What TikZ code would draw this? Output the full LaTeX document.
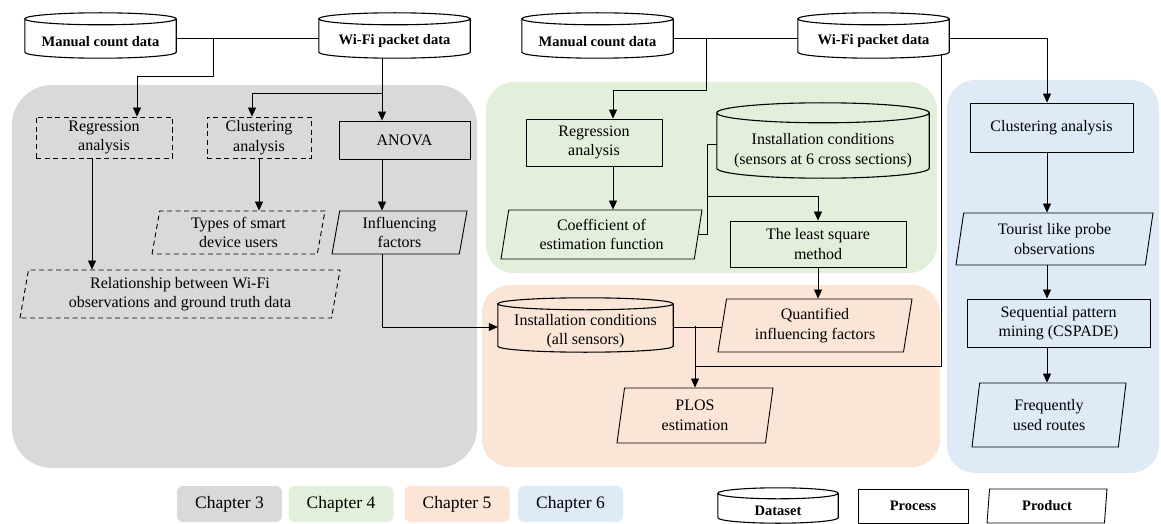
\documentclass[tikz,border=0pt]{standalone}
\usepackage{fontspec}
\setmainfont{Liberation Serif}
\usepackage{tikz}
\usetikzlibrary{arrows.meta}
\usetikzlibrary{calc}
\usetikzlibrary{shapes.geometric}
\definecolor{chgray}{HTML}{D9D9D9}
\definecolor{chgreen}{HTML}{E2EFDA}
\definecolor{chpeach}{HTML}{FBE5D6}
\definecolor{chblue}{HTML}{DEEBF7}
\tikzstyle{every node}+=[inner sep=0pt]
\tikzstyle{txt}=[align=center, font=\fontsize{16}{19.5}\selectfont]
\tikzstyle{hd}=[align=center, font=\bfseries\fontsize{14.5}{17}\selectfont]
\tikzstyle{box}=[txt, draw, line width=0.9pt]
\tikzstyle{dbox}=[box, dash pattern=on 5pt off 3.5pt]
\tikzstyle{prod}=[box, trapezium, trapezium left angle=76, trapezium right angle=104, trapezium stretches body]
\tikzstyle{dprod}=[prod, dash pattern=on 5pt off 3.5pt]
\tikzstyle{db}=[txt]
\tikzstyle{region}=[rounded corners=28pt]
\tikzstyle{chap}=[rounded corners=6pt, minimum width=105, minimum height=36, font=\fontsize{17.5}{20}\selectfont]
\tikzstyle{link}=[line width=0.8pt]
\tikzstyle{arr}=[link, -{Triangle[length=9pt,width=8pt]}]

\begin{document}
\begin{tikzpicture}[x=1pt, y=1pt]
        \useasboundingbox (0,0) rectangle (1161,-524);
        % chapter regions
        \fill[region, chgray, rounded corners=40pt] (12,-85) rectangle (477,-468);
        \fill[region, chgreen] (486,-82) rectangle (937,-273);
        \fill[region, chpeach] (482,-285) rectangle (940,-467);
        \fill[region, chblue] (947,-80) rectangle (1159,-473);
        % datasets
        \node[db, hd, minimum width=151, minimum height=33] (mcA) at (100.5,-41.5) {Manual count data};
        \node[db, hd, minimum width=151, minimum height=33] (wfA) at (394.5,-41.5) {Wi-Fi packet data};
        \node[db, hd, minimum width=151, minimum height=33] (mcB) at (597.5,-41.5) {Manual count data};
        \node[db, hd, minimum width=151, minimum height=33] (wfB) at (873.5,-41.5) {Wi-Fi packet data};
        \node[db, minimum width=212, minimum height=55] (insB) at (823,-150.5) {Installation conditions\\(sensors at 6 cross sections)};
        \node[db, minimum width=175, minimum height=42] (insC) at (585.5,-331) {Installation conditions\\(all sensors)};
        % chapter 3
        \node[dbox, minimum width=136, minimum height=41] (regA) at (104,-137.5) {Regression\\analysis};
        \node[dbox, minimum width=104, minimum height=41] (cluA) at (259,-137.5) {Clustering\\analysis};
        \node[box, minimum width=131, minimum height=38] (anova) at (404.5,-140) {ANOVA};
        \node[dprod, minimum width=173, minimum height=43] (typA) at (238.5,-232.5) {Types of smart\\device users};
        \node[prod, minimum width=135, minimum height=43] (infA) at (399.5,-232.5) {Influencing\\factors};
        \node[dprod, minimum width=320, minimum height=48] (relA) at (180,-294) {Relationship between Wi-Fi\\observations and ground truth data};
        % chapter 4
        \node[box, minimum width=136, minimum height=47] (regB) at (594,-142.5) {Regression\\analysis};
        \node[prod, minimum width=201, minimum height=49] (coef) at (601.5,-234.5) {Coefficient of\\estimation function};
        \node[box, minimum width=176, minimum height=46] (lsq) at (818,-244) {The least square\\method};
        % chapter 5
        \node[prod, minimum width=194, minimum height=53] (quant) at (815,-325.5) {Quantified\\influencing factors};
        \node[prod, minimum width=156, minimum height=55] (plos) at (695,-415.5) {PLOS\\estimation};
        % chapter 6
        \node[box, minimum width=163, minimum height=49] (cluB) at (1051.5,-127.5) {Clustering analysis};
        \node[prod, minimum width=197, minimum height=52] (tour) at (1054.5,-239) {Tourist like probe\\observations};
        \node[box, minimum width=183, minimum height=48] (seq) at (1058.5,-323) {Sequential pattern\\mining (CSPADE)};
        \node[prod, minimum width=154, minimum height=64] (freq) at (1049,-415) {Frequently\\used routes};
        % legend
        \node[chap, fill=chgray] (lg3) at (229.5,-504) {Chapter 3};
        \node[chap, fill=chgreen] (lg4) at (341,-504) {Chapter 4};
        \node[chap, fill=chpeach] (lg5) at (457,-504) {Chapter 5};
        \node[chap, fill=chblue] (lg6) at (570.5,-504) {Chapter 6};
        \node[db, hd, minimum width=120, minimum height=24] (lgD) at (778,-511) {Dataset};
        \node[box, hd, minimum width=110, minimum height=34] (lgP) at (913,-506) {Process};
        \node[prod, hd, minimum width=120, minimum height=34] (lgQ) at (1047,-506) {Product};
        % cylinder outlines
        \foreach \c/\ry in {mcA/6, wfA/6, mcB/6, wfB/6, insB/10, insC/6, lgD/5.5}
          \draw[line width=1.1pt] let \p1=(\c.north west), \p2=(\c.south east), \n1={(\x2-\x1)/2} in
            (\c.north) ++(0,\ry) ellipse [x radius=\n1, y radius=\ry pt]
            (\x1,\y1+\ry pt) -- (\x1,\y2+\ry pt) arc [start angle=180, end angle=360, x radius=\n1, y radius=\ry pt] -- (\x2,\y1+\ry pt);
        % lanes and junctions
        \coordinate (j1) at (213,-38);
        \coordinate (j2) at (382,-93);
        \coordinate (j3) at (706,-38);
        \coordinate (j4) at (707,-196);
        \coordinate (j6) at (695,-366);
        \coordinate (xa) at (92,0);
        \coordinate (xb) at (137,0);
        \coordinate (xc) at (252,0);
        \coordinate (xd) at (613,0);
        \coordinate (xe) at (941,-55);
        \coordinate (arrx) at (1047,0);
        % chapter 3 links
        \draw[link] ([yshift=3.5pt]mcA.east) -- ([yshift=3.5pt]wfA.west);
        \draw[arr] (j1) -- ++(0,-38) -| (xb |- regA.north);
        \draw[link] (j2 |- wfA.south) -- (j2);
        \draw[arr] (j2) -| (xc |- cluA.north);
        \draw[arr] (j2) -- (j2 |- anova.north);
        \draw[arr] (xa |- regA.south) -- (xa |- relA.north);
        \draw[arr] (cluA.south) -- (cluA.south |- typA.north);
        \draw[arr] (j2 |- anova.south) -- (j2 |- infA.north);
        \draw[arr] (j2 |- infA.south) |- ([yshift=4pt]insC.west);
        % chapter 4 and 5 links
        \draw[link] ([yshift=3.5pt]mcB.east) -- ([yshift=3.5pt]wfB.west);
        \draw[arr] (j3) -- ++(0,-52) -| (xd |- regB.north);
        \draw[arr] (xd |- regB.south) -- (xd |- coef.north);
        \draw[link] (coef.east) -| (j4) |- ([yshift=6.5pt]insB.west);
        \draw[arr] (j4) -| (lsq.north);
        \draw[arr] (lsq.south) -- (lsq.south |- quant.north);
        \draw[link] ([yshift=4pt]insC.east) -- ([yshift=4pt]insC.east -| quant.west);
        \draw[arr] (plos.north |- quant.west) -- (plos.north);
        \draw[link] (xe) |- (j6);
        % chapter 6 links
        \draw[arr] ([yshift=3.5pt]wfB.east) -| (arrx |- cluB.north);
        \foreach \a/\b in {cluB/tour, tour/seq, seq/freq}
          \draw[arr] (arrx |- \a.south) -- (arrx |- \b.north);
\end{tikzpicture}
\end{document}
